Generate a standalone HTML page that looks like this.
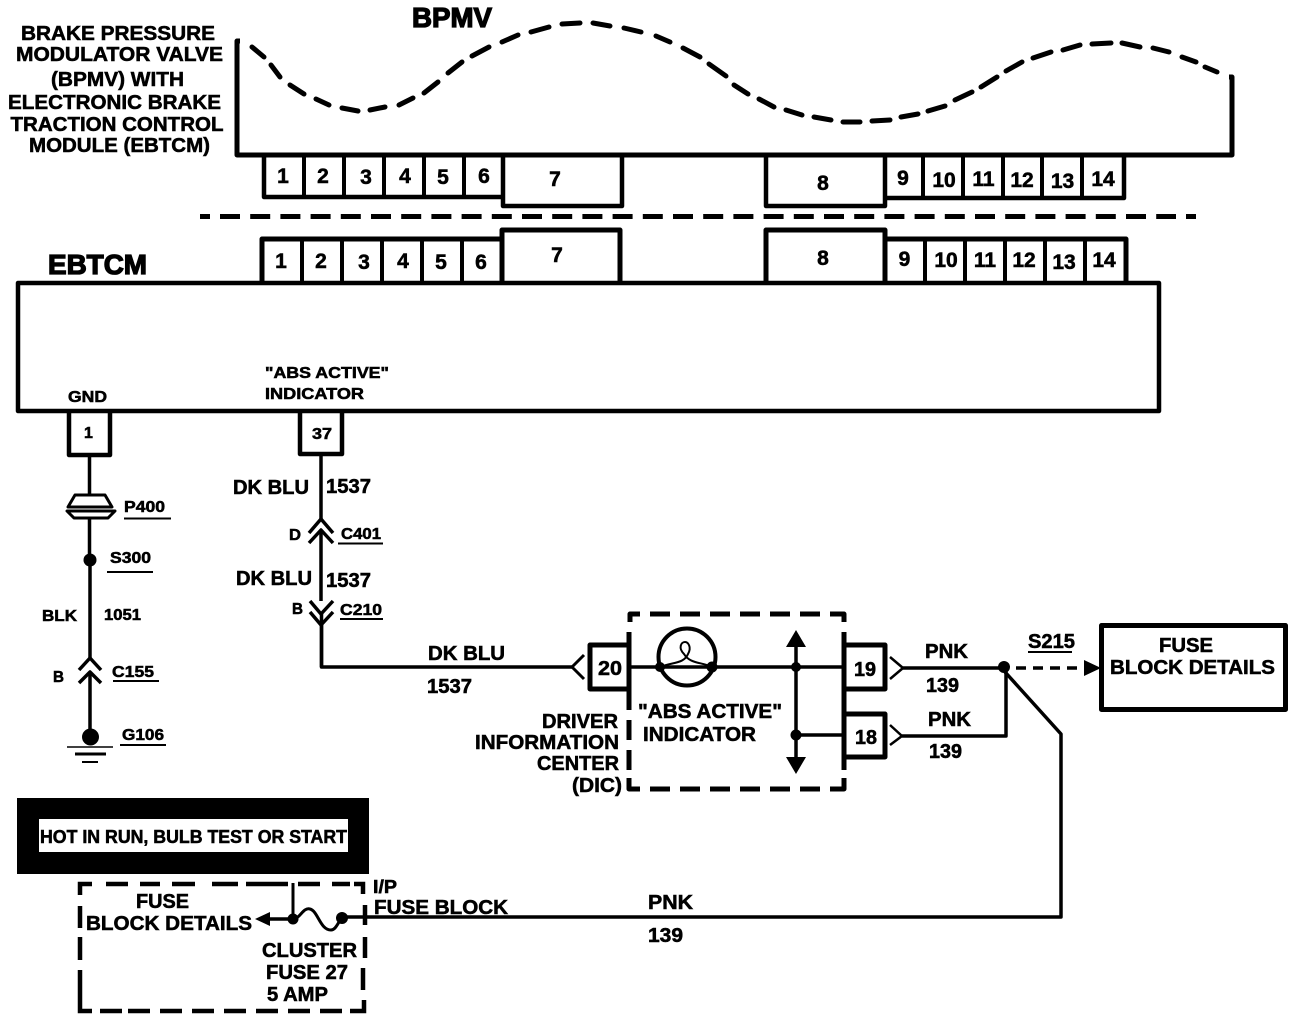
<!DOCTYPE html>
<html><head><meta charset="utf-8"><style>
html,body{margin:0;padding:0;background:#fff}
svg{display:block}
text{font-family:"Liberation Sans",sans-serif;font-weight:700;fill:#000;stroke:#000;stroke-width:.55px}
.h{font-size:20px}.n{font-size:21px}.s{font-size:16px}
.big{font-size:28px;stroke-width:1.3px}
.m{text-anchor:middle}
</style></head><body>
<svg width="1312" height="1022" viewBox="0 0 1312 1022" xmlns="http://www.w3.org/2000/svg">
<rect width="1312" height="1022" fill="#fff"/>
<g fill="none" stroke="#000" stroke-width="4" stroke-linejoin="round" stroke-linecap="butt">
<!-- BPMV body -->
<path d="M240 41H237V155H1232V77H1229" stroke-width="5"/>
<path stroke-width="5" stroke-linecap="round" d="M252 47L264 57M271 65L280 77M290 85L304 94M316 99L329 105M342 108L358 111M370 110L385 107M399 105L413 98M424 93L438 82M448 73L462 62M472 56L489 47M502 42L518 35M531 32L549 27M562 24L580 23M593 23L610 26M624 28L641 32M656 36L670 42M683 48L700 57M709 64L726 76M734 85L748 94M759 99L774 107M786 110L802 115M814 117L831 120M843 122L860 122M872 121L890 120M901 117L918 114M928 111L945 106M955 100L972 92M981 87L997 77M1006 71L1022 62M1033 58L1051 52M1063 50L1080 45M1092 44L1111 43M1122 43L1140 47M1153 48L1169 52M1182 57L1196 62M1205 67L1217 72"/>
<!-- upper connectors -->
<path d="M264 155V197H503M503 155V206H622V155M766 155V206H885V155M885 198H1124V155" stroke-width="4.500"/>
<path d="M304 155V197M344 155V197M384 155V197M424 155V197M464 155V197M923 155V198M963 155V198M1003 155V198M1042 155V198M1082 155V198"/>
<path d="M220 216.500H1176" stroke-width="5" stroke-dasharray="20 10.200"/>
<path d="M200 216.500H210M1186 216.500H1196" stroke-width="5"/>
<!-- lower connectors -->
<path d="M262 282V239H502M502 282V230H620V282M766 282V230H885V282M885 239H1126V282" stroke-width="5"/>
<path d="M302 239V282M342 239V282M382 239V282M422 239V282M462 239V282M925 239V282M965 239V282M1005 239V282M1045 239V282M1085 239V282" stroke-width="4"/>
<!-- EBTCM -->
<rect x="18" y="283" width="1141" height="128" stroke-width="4.500"/>
<path d="M69 411V455H110V411M300 411V454H342V411" stroke-width="4.500"/>
<!-- left wire -->
<path d="M89.500 455V496M89.500 518V560M90 560V660" stroke-width="3.500"/>
<path d="M75 495H105L112 507H68ZM67 511H115L108 518H74Z" fill="#fff" stroke-width="3"/>
<path d="M79 670L90 658L101 670M79 683L90 672L101 683" stroke-width="3.500"/>
<path d="M90 672V738" stroke-width="3.500"/>
<circle cx="90" cy="560" r="6.500" fill="#000" stroke="none"/>
<circle cx="90.500" cy="737" r="8.500" fill="#000" stroke="none"/>
<path d="M67 747H113" stroke-width="1.500"/>
<path d="M75 754H106" stroke-width="3"/>
<path d="M82 762H98" stroke-width="2"/>
<!-- 37 wire -->
<path d="M321 454V519M321 530V601M321.500 612V667H572" stroke-width="3.500"/>
<path d="M309 533L321 519L333 533M309 543L321 530L333 543M310 601L321 614L333 601M310 612L321 625L333 612" stroke-width="3.500"/>
<path d="M321.500 625V667" stroke-width="3.500"/>
<!-- DIC box -->
<path d="M584 655L572 667L584 679" stroke-width="3"/>
<path d="M629 645H590V689H629" stroke-width="5"/>
<path d="M630 622V614H640M650 614H670M680 614H700M710 614H730M740 614H760M770 614H790M800 614H820M830 614H844V622M629 632V710M629 720V740M629 750V770M629 778V789H640M650 789H670M680 789H700M710 789H730M740 789H760M770 789H790M800 789H820M830 789H844V778M844 632V770" stroke-width="5"/>
<path d="M844 645H885V689H844M844 714H885V757H844" stroke-width="5"/>
<path d="M629 667H844" stroke-width="3.500"/>
<circle cx="687" cy="657" r="28.500" fill="none" stroke-width="4"/>
<path d="M660 667C672 662 684 664 688 654C692 647 688 642 685 642C681 642 678 648 684 654C690 664 702 662 712 667" stroke-width="2"/>
<circle cx="660" cy="667" r="5" fill="#000" stroke="none"/>
<circle cx="712" cy="667" r="5.500" fill="#000" stroke="none"/>
<path d="M796 640V765" stroke-width="3.500"/>
<path d="M796 735H844" stroke-width="3.500"/>
<path d="M796 630L806 647H786ZM796 774L806 757H786Z" fill="#000" stroke="none"/>
<circle cx="796" cy="667" r="5" fill="#000" stroke="none"/>
<circle cx="796" cy="735" r="5.500" fill="#000" stroke="none"/>
<!-- right wires -->
<path d="M890 657L903 668L890 679M890 725L902 736L890 745" stroke-width="2.500"/>
<path d="M903 668H1004M902 736H1006V668" stroke-width="3.500"/>
<path d="M1005 672L1061 734V917H375" stroke-width="3.500"/>
<circle cx="1004" cy="667" r="6" fill="#000" stroke="none"/>
<path d="M1016 668H1084" stroke-width="3.500" stroke-dasharray="10 7"/>
<path d="M1101 668L1084 660V676Z" fill="#000" stroke="none"/>
<rect x="1101.500" y="625.500" width="184" height="84" stroke-width="5"/>
</g>
<!-- hot bar -->
<rect x="17" y="798" width="352" height="76" fill="#000"/>
<rect x="39" y="819" width="309" height="33" fill="#fff"/>
<g fill="none" stroke="#000" stroke-width="4.500">
<path d="M80 895V884H92M106 884H128M140 884H160M172 884H195M212 884H238M246 884H288M298 884H320M332 884H350M354 884H363V894M80 906V928M80 937V960M80 970V1002M80 1002V1011H92M100 1011H122M128 1011H150M160 1011H182M192 1011H214M224 1011H246M256 1011H278M288 1011H310M320 1011H342M350 1011H364V1000M365 905V925M365 937V958M363 968V990"/>
<path d="M293 883V919" stroke-width="3"/>
<path d="M293 919C300 919 303 907 310 909C318 911 320 930 331 930C336 930 338 922 342 918" stroke-width="3"/>
<path d="M267 919H293" stroke-width="3.500"/>
<path d="M342 917H375" stroke-width="3.500"/>
</g>
<path d="M255 919L270 912V926Z" fill="#000"/>
<circle cx="293" cy="919" r="5.500" fill="#000"/>
<circle cx="342" cy="918" r="6" fill="#000"/>
<!-- underlines -->
<g stroke="#000" stroke-width="2">
<path d="M124 518.500H171M107 572H153M113 681H159M120 745H166M338 543.500H383M340 619H383M1028 652H1072"/>
</g>
<!-- text -->
<g class="h">
<text x="21" y="40" textLength="194" lengthAdjust="spacingAndGlyphs">BRAKE PRESSURE</text>
<text x="16" y="61" textLength="207" lengthAdjust="spacingAndGlyphs">MODULATOR VALVE</text>
<text x="51" y="86" textLength="133" lengthAdjust="spacingAndGlyphs">(BPMV) WITH</text>
<text x="8" y="109" textLength="213" lengthAdjust="spacingAndGlyphs">ELECTRONIC BRAKE</text>
<text x="10.500" y="131" textLength="213" lengthAdjust="spacingAndGlyphs">TRACTION CONTROL</text>
<text x="29" y="152" textLength="181" lengthAdjust="spacingAndGlyphs">MODULE (EBTCM)</text>
</g>
<text class="big" x="412" y="27" textLength="80" lengthAdjust="spacingAndGlyphs">BPMV</text>
<text class="big" x="48" y="274" textLength="99" lengthAdjust="spacingAndGlyphs">EBTCM</text>
<g class="n m">
<text x="283" y="183">1</text><text x="323" y="183">2</text><text x="366" y="184">3</text><text x="405" y="183">4</text><text x="443" y="184">5</text><text x="484" y="183">6</text><text x="555" y="186">7</text>
<text x="823" y="190">8</text><text x="903" y="185">9</text><text x="944" y="187">10</text><text x="983.500" y="186">11</text><text x="1022" y="187">12</text><text x="1062.500" y="188">13</text><text x="1103" y="186">14</text>
<text x="281" y="268">1</text><text x="321" y="268">2</text><text x="364" y="269">3</text><text x="403" y="268">4</text><text x="441" y="269">5</text><text x="481" y="269">6</text><text x="557" y="262">7</text>
<text x="823" y="265">8</text><text x="904.500" y="266">9</text><text x="946" y="267">10</text><text x="985" y="267">11</text><text x="1024" y="267">12</text><text x="1064" y="269">13</text><text x="1104" y="267">14</text>
</g>
<g class="s">
<text x="68" y="402" textLength="39" lengthAdjust="spacingAndGlyphs">GND</text>
<text x="265" y="378" textLength="124" lengthAdjust="spacingAndGlyphs">"ABS ACTIVE"</text>
<text x="265" y="399" textLength="99" lengthAdjust="spacingAndGlyphs">INDICATOR</text>
<text x="84" y="438">1</text>
<text x="312" y="439" textLength="20" lengthAdjust="spacingAndGlyphs">37</text>
<text x="124" y="512" textLength="41" lengthAdjust="spacingAndGlyphs">P400</text>
<text x="110" y="563" textLength="41" lengthAdjust="spacingAndGlyphs">S300</text>
<text x="42" y="621" textLength="35" lengthAdjust="spacingAndGlyphs">BLK</text>
<text x="104" y="620" textLength="37" lengthAdjust="spacingAndGlyphs">1051</text>
<text x="53" y="682" textLength="11" lengthAdjust="spacingAndGlyphs">B</text>
<text x="112" y="677" textLength="42" lengthAdjust="spacingAndGlyphs">C155</text>
<text x="122" y="740" textLength="42" lengthAdjust="spacingAndGlyphs">G106</text>
<text x="289" y="540" textLength="12" lengthAdjust="spacingAndGlyphs">D</text>
<text x="341" y="539" textLength="40" lengthAdjust="spacingAndGlyphs">C401</text>
<text x="292" y="614" textLength="11" lengthAdjust="spacingAndGlyphs">B</text>
<text x="340" y="615" textLength="42" lengthAdjust="spacingAndGlyphs">C210</text>
</g>
<g class="h">
<text x="233" y="494" textLength="76" lengthAdjust="spacingAndGlyphs">DK BLU</text>
<text x="326" y="493" textLength="45" lengthAdjust="spacingAndGlyphs">1537</text>
<text x="236" y="585" textLength="76" lengthAdjust="spacingAndGlyphs">DK BLU</text>
<text x="326" y="587" textLength="45" lengthAdjust="spacingAndGlyphs">1537</text>
<text x="428" y="660" textLength="77" lengthAdjust="spacingAndGlyphs">DK BLU</text>
<text x="427" y="693" textLength="45" lengthAdjust="spacingAndGlyphs">1537</text>
<text x="598" y="675" textLength="24" lengthAdjust="spacingAndGlyphs">20</text>
<text x="638" y="718" textLength="144" lengthAdjust="spacingAndGlyphs">"ABS ACTIVE"</text>
<text x="643" y="741" textLength="113" lengthAdjust="spacingAndGlyphs">INDICATOR</text>
<text x="542" y="728" textLength="76" lengthAdjust="spacingAndGlyphs">DRIVER</text>
<text x="475" y="749" textLength="144" lengthAdjust="spacingAndGlyphs">INFORMATION</text>
<text x="537" y="770" textLength="82" lengthAdjust="spacingAndGlyphs">CENTER</text>
<text x="572" y="792" textLength="50" lengthAdjust="spacingAndGlyphs">(DIC)</text>
<text x="854" y="676" textLength="22" lengthAdjust="spacingAndGlyphs">19</text>
<text x="855" y="744" textLength="22" lengthAdjust="spacingAndGlyphs">18</text>
<text x="925" y="658" textLength="43" lengthAdjust="spacingAndGlyphs">PNK</text>
<text x="926" y="692" textLength="33" lengthAdjust="spacingAndGlyphs">139</text>
<text x="928" y="726" textLength="43" lengthAdjust="spacingAndGlyphs">PNK</text>
<text x="929" y="758" textLength="33" lengthAdjust="spacingAndGlyphs">139</text>
<text x="1028" y="648" textLength="47" lengthAdjust="spacingAndGlyphs">S215</text>
<text x="1159" y="652" textLength="54" lengthAdjust="spacingAndGlyphs">FUSE</text>
<text x="1110" y="674" textLength="165" lengthAdjust="spacingAndGlyphs">BLOCK DETAILS</text>
<text x="40" y="843" textLength="307" lengthAdjust="spacingAndGlyphs" style="font-size:18px">HOT IN RUN, BULB TEST OR START</text>
<text x="373" y="893" textLength="24" lengthAdjust="spacingAndGlyphs" style="font-size:18px">I/P</text>
<text x="374" y="914" textLength="134" lengthAdjust="spacingAndGlyphs">FUSE BLOCK</text>
<text x="136" y="908" textLength="53" lengthAdjust="spacingAndGlyphs">FUSE</text>
<text x="86" y="930" textLength="166" lengthAdjust="spacingAndGlyphs">BLOCK DETAILS</text>
<text x="262" y="957" textLength="95" lengthAdjust="spacingAndGlyphs">CLUSTER</text>
<text x="266" y="979" textLength="82" lengthAdjust="spacingAndGlyphs">FUSE 27</text>
<text x="267" y="1001" textLength="61" lengthAdjust="spacingAndGlyphs">5 AMP</text>
<text x="648" y="909" textLength="45" lengthAdjust="spacingAndGlyphs">PNK</text>
<text x="648" y="942" textLength="35" lengthAdjust="spacingAndGlyphs">139</text>
</g>
</svg>
</body></html>
